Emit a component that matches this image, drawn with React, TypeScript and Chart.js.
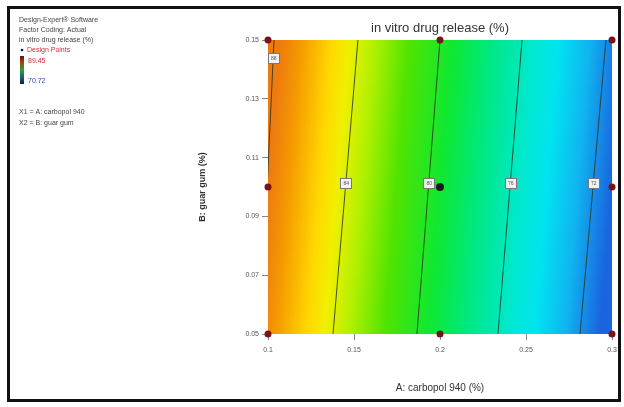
import React, { useEffect, useRef } from 'react';
import { Chart, registerables } from 'chart.js';
Chart.register(...registerables);

const xTicks = [0.1, 0.15, 0.2, 0.25, 0.3];
const yTicks = [0.05, 0.07, 0.09, 0.11, 0.13, 0.15];
const designA = [0.1, 0.2, 0.3, 0.1, 0.3, 0.1, 0.2, 0.3];
const designB = [0.05, 0.05, 0.05, 0.1, 0.1, 0.15, 0.15, 0.15];
const centerA = [0.2];
const centerB = [0.1];
const contourLevels = ['88', '84', '80', '76', '72'];
const contourABottom = [0.0955, 0.1378, 0.1866, 0.2337, 0.2814];
const contourATop = [0.1035, 0.1523, 0.2, 0.2477, 0.2965];
const labelB = [0.144, 0.1014, 0.1014, 0.1014, 0.1014];
const colorStopA = [0.1, 0.112, 0.13, 0.14, 0.155, 0.175, 0.2, 0.22, 0.245, 0.262, 0.28, 0.3];
const colorStopColor = ['#ee7a10', '#f59a00', '#ffd800', '#f0f000', '#b0f000', '#50e400', '#10e830', '#00e878', '#00e8c8', '#00e4f0', '#10b4f0', '#1a64e0'];
const responseMax = '89.45';
const responseMin = '70.72';

const FONT = 'Arial, "Liberation Sans", sans-serif';

const bgPlugin = {
  id: 'bgmap',
  beforeDatasetsDraw(chart: any) {
    const { ctx, chartArea, scales } = chart;
    const xs = scales.x, ys = scales.y;
    let tilt = 0;
    for (let i = 1; i < contourATop.length; i++) tilt += (contourATop[i] - contourABottom[i]) / 0.1;
    tilt /= contourATop.length - 1;
    ctx.save();
    ctx.beginPath();
    ctx.rect(chartArea.left, chartArea.top, chartArea.right - chartArea.left, chartArea.bottom - chartArea.top);
    ctx.clip();
    const a0 = colorStopA[0], a1 = colorStopA[colorStopA.length - 1];
    for (let y = Math.floor(chartArea.top); y < Math.ceil(chartArea.bottom); y++) {
      const b = ys.getValueForPixel(y + 0.5);
      const sh = tilt * (b - 0.1);
      const x0 = xs.getPixelForValue(a0 + sh);
      const x1 = xs.getPixelForValue(a1 + sh);
      const g = ctx.createLinearGradient(x0, 0, x1, 0);
      colorStopA.forEach((a, i) => g.addColorStop((a - a0) / (a1 - a0), colorStopColor[i]));
      ctx.fillStyle = g;
      ctx.fillRect(chartArea.left, y, chartArea.right - chartArea.left, 1);
    }
    ctx.restore();
  },
  afterDatasetsDraw(chart: any) {
    const { ctx, scales } = chart;
    ctx.save();
    contourLevels.forEach((lv, i) => {
      const b = labelB[i];
      const a = contourABottom[i] + (contourATop[i] - contourABottom[i]) * (b - 0.05) / 0.1;
      const px = scales.x.getPixelForValue(a);
      const py = scales.y.getPixelForValue(b);
      ctx.fillStyle = '#f2f2f2';
      ctx.strokeStyle = '#777';
      ctx.lineWidth = 1;
      ctx.fillRect(Math.round(px - 5.5) + 0.5, Math.round(py - 5) + 0.5, 11, 10);
      ctx.strokeRect(Math.round(px - 5.5) + 0.5, Math.round(py - 5) + 0.5, 11, 10);
      ctx.fillStyle = '#555';
      ctx.font = `5px ${FONT}`;
      ctx.textAlign = 'center';
      ctx.textBaseline = 'middle';
      ctx.fillText(lv, px + 0.5, py + 0.5);
    });
    ctx.restore();
  },
  afterDraw(chart: any) {
    const { ctx, chartArea } = chart;
    ctx.save();
    // title
    ctx.fillStyle = '#333';
    ctx.font = `13px ${FONT}`;
    ctx.textAlign = 'center';
    ctx.textBaseline = 'middle';
    ctx.fillText('in vitro drug release (%)', (chartArea.left + chartArea.right) / 2, 28);
    // legend block
    ctx.textAlign = 'left';
    ctx.font = `7px ${FONT}`;
    ctx.fillStyle = '#444';
    ctx.fillText('Design-Expert® Software', 19, 20);
    ctx.fillText('Factor Coding: Actual', 19, 30);
    ctx.fillText('in vitro drug release (%)', 19, 40);
    ctx.fillStyle = '#111';
    ctx.beginPath();
    ctx.arc(22, 50, 1.3, 0, Math.PI * 2);
    ctx.fill();
    ctx.fillStyle = '#d0303a';
    ctx.fillText('Design Points', 27, 50);
    const cg = ctx.createLinearGradient(0, 56, 0, 84);
    cg.addColorStop(0, '#6a1010');
    cg.addColorStop(0.2, '#a04010');
    cg.addColorStop(0.5, '#30a040');
    cg.addColorStop(0.8, '#205070');
    cg.addColorStop(1, '#102040');
    ctx.fillStyle = cg;
    ctx.fillRect(20, 56, 4, 28);
    ctx.fillStyle = '#d0303a';
    ctx.fillText(responseMax, 28, 61);
    ctx.fillStyle = '#3040b0';
    ctx.fillText(responseMin, 28, 81);
    ctx.fillStyle = '#444';
    ctx.fillText('X1 = A: carbopol 940', 19, 112);
    ctx.fillText('X2 = B: guar gum', 19, 123);
    // frame
    ctx.strokeStyle = '#111';
    ctx.lineWidth = 3;
    ctx.strokeRect(8.5, 7.5, 611, 393);
    ctx.restore();
  },
};

export default function App() {
  const ref = useRef<HTMLCanvasElement>(null);
  useEffect(() => {
    if (!ref.current) return;
    const lineSets = contourLevels.map((lv, i) => ({
      type: 'line' as const,
      label: lv,
      data: [{ x: contourABottom[i], y: 0.05 }, { x: contourATop[i], y: 0.15 }],
      borderColor: 'rgba(40,55,30,0.85)',
      borderWidth: 1,
      pointRadius: 0,
      fill: false,
      order: 3,
    }));
    const chart = new Chart(ref.current, {
      type: 'scatter',
      data: {
        datasets: [
          ...lineSets,
          {
            label: 'Design Points',
            data: designA.map((a, i) => ({ x: a, y: designB[i] })),
            pointBackgroundColor: '#7a1414',
            pointBorderWidth: 0,
            pointRadius: 3.5,
            clip: 6,
            order: 1,
          } as any,
          {
            label: 'Center',
            data: centerA.map((a, i) => ({ x: a, y: centerB[i] })),
            pointBackgroundColor: '#1a1a1a',
            pointBorderWidth: 0,
            pointRadius: 4,
            order: 0,
          } as any,
        ],
      },
      options: {
        animation: false,
        responsive: false,
        devicePixelRatio: 1,
        layout: { padding: { left: 197, right: 12, top: 40, bottom: 13 } },
        plugins: { legend: { display: false }, tooltip: { enabled: false }, title: { display: false } },
        scales: {
          x: {
            type: 'linear',
            min: 0.1,
            max: 0.3,
            afterBuildTicks: (s: any) => { s.ticks = xTicks.map(v => ({ value: v })); },
            afterFit: (s: any) => { s.height = 60; },
            ticks: { font: { size: 7, family: FONT }, color: '#555', padding: 6, maxRotation: 0, autoSkip: false, callback: (v: any) => String(v) },
            grid: { drawOnChartArea: false, drawTicks: true, tickLength: 6, color: '#888' },
            border: { display: false },
            title: { display: true, text: 'A: carbopol 940 (%)', font: { size: 10, family: FONT }, color: '#333', padding: 0 },
          },
          y: {
            type: 'linear',
            min: 0.05,
            max: 0.15,
            afterBuildTicks: (s: any) => { s.ticks = yTicks.map(v => ({ value: v })); },
            afterFit: (s: any) => { s.width = 71; },
            ticks: { font: { size: 7, family: FONT }, color: '#555', padding: 3, autoSkip: false, callback: (v: any) => Number(v).toFixed(2) },
            grid: { drawOnChartArea: false, drawTicks: true, tickLength: 6, color: '#888' },
            border: { display: false },
            title: { display: true, text: 'B: guar gum (%)', font: { size: 9, weight: 'bold', family: FONT }, color: '#333', padding: 0 },
          },
        },
      } as any,
      plugins: [bgPlugin],
    });
    return () => chart.destroy();
  }, []);
  return (
    <div style={{ position: 'absolute', left: 0, top: 0, width: 624, height: 407, background: '#fff' }}>
      <canvas ref={ref} width={624} height={407} style={{ display: 'block' }} />
    </div>
  );
}
